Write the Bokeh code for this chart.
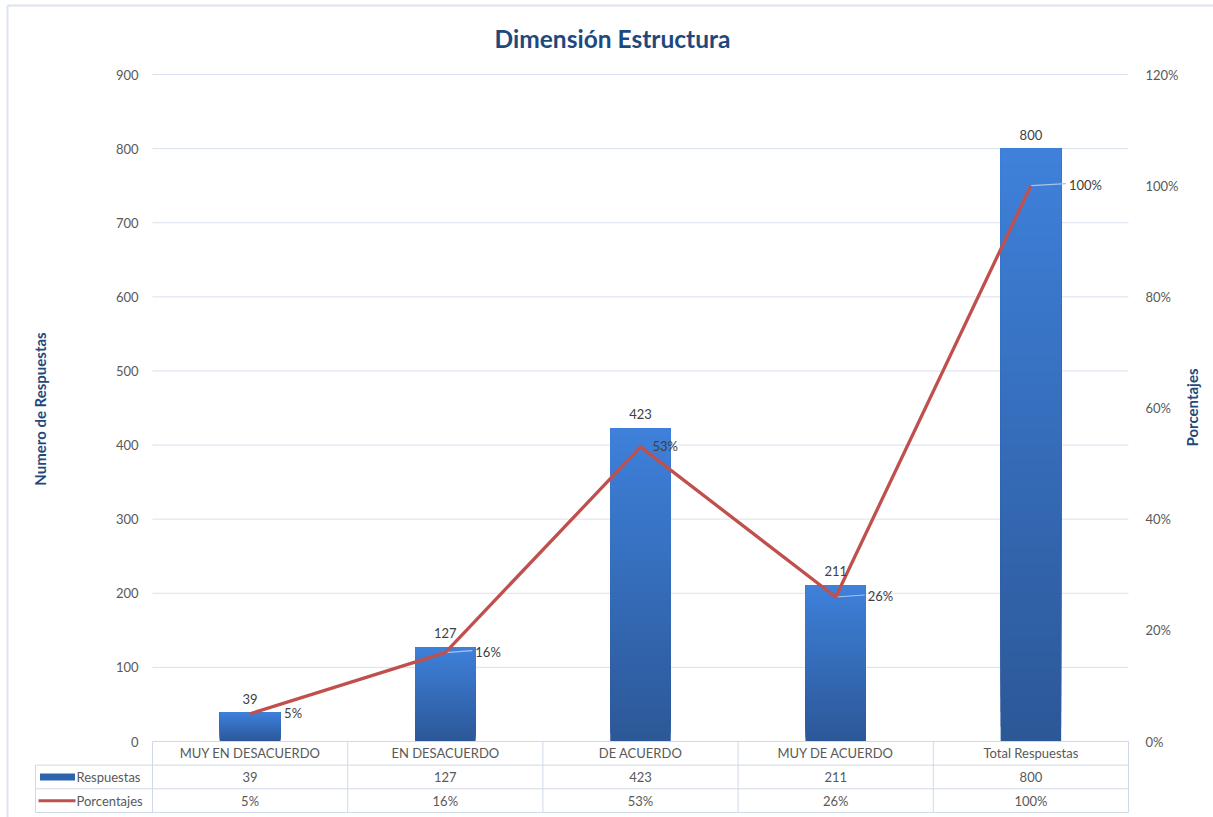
import math
from bokeh.plotting import figure
from bokeh.models import Range1d, LinearAxis, FixedTicker, NumeralTickFormatter, Label
from bokeh.core.properties import value
from bokeh.embed import file_html
from bokeh.resources import INLINE

# ---------------- data ----------------
categories = ["MUY EN DESACUERDO", "EN DESACUERDO", "DE ACUERDO", "MUY DE ACUERDO", "Total Respuestas"]
respuestas = [39, 127, 423, 211, 800]
porcentajes = [0.05, 0.16, 0.53, 0.26, 1.00]
pct_labels = ["5%", "16%", "53%", "26%", "100%"]
left_ticks = [0, 100, 200, 300, 400, 500, 600, 700, 800, 900]
right_ticks = [0, 0.2, 0.4, 0.6, 0.8, 1.0, 1.2]
series_names = ["Respuestas", "Porcentajes"]
title_text = "Dimensión Estructura"
y_label_left = "Numero de Respuestas"
y_label_right = "Porcentajes"

# ---------------- styles ----------------
pct_label_dx = [34, 30, 12, 32, 38]
leader_on = [False, True, False, True, True]
FONT = "Lato"
TEXT_GRAY = "#595959"
DARK_BLUE = "#1F497D"
BAR_TOP = (62, 128, 218)
BAR_BOT = (44, 88, 152)
LINE_RED = "#C0504D"
GRID = "#D9E1F0"
TABLE_LINE = "#D0D9E8"
BORDER = "#DCE4F0"
LEADER = "#A9C4EB"

# ---------------- layout (pixels) ----------------
W, H = 1213, 817
PLOT_L, PLOT_R, PLOT_T = 152, 1128, 74
ZERO_PX = 741
TABLE_BOTTOM_PX = 812
LEG_L = 35
n = len(categories)
unit = (PLOT_R - PLOT_L) / n


def px2x(px):
    return -0.5 + (px - PLOT_L) / unit


ymax = left_ticks[-1]
pmax = right_ticks[-1]
px_per_val = (ZERO_PX - PLOT_T) / ymax
px_per_pct = (ZERO_PX - PLOT_T) / pmax
ROW_PX = (TABLE_BOTTOM_PX - ZERO_PX) / 3


def py2y(py):
    return (ZERO_PX - py) / px_per_val


p = figure(width=W, height=H,
           x_range=Range1d(px2x(0), px2x(W)),
           y_range=Range1d(py2y(H), py2y(0)),
           x_axis_location=None, y_axis_location=None,
           toolbar_location=None, output_backend="svg",
           min_border_left=0, min_border_right=0,
           min_border_top=0, min_border_bottom=0,
           outline_line_color=None, background_fill_color="white",
           border_fill_color="white")
p.xgrid.visible = False
p.ygrid.visible = False
p.extra_y_ranges = {
    "pct": Range1d(-(H - ZERO_PX) / px_per_pct, ZERO_PX / px_per_pct),
    "tbl": Range1d(-(H - ZERO_PX) / ROW_PX, ZERO_PX / ROW_PX),
}

idx = list(range(n))

# chart border (top and left edges)
p.segment(x0=[px2x(7), px2x(7)], x1=[px2x(W), px2x(7)], y0=[py2y(5), py2y(5)],
          y1=[py2y(5), py2y(H)], line_color=BORDER, line_width=2)

# gridlines
gt = left_ticks[1:]
p.segment(x0=[-0.5] * len(gt), x1=[n - 0.5] * len(gt), y0=gt, y1=gt,
          line_color=GRID, line_width=1)

# bars with vertical gradient
N = 40
bx, bb, bt, bc = [], [], [], []
for k in range(N):
    f = k / (N - 1)
    col = "#%02x%02x%02x" % tuple(int(round(BAR_BOT[j] + (BAR_TOP[j] - BAR_BOT[j]) * f)) for j in range(3))
    for i, v in zip(idx, respuestas):
        bx.append(i)
        bb.append(v * k / N)
        bt.append(v)
        bc.append(col)
p.vbar(x=bx, bottom=bb, top=bt, width=0.31, fill_color=bc, line_color=None)

# leader lines for percentage labels
lx0, lx1, ly = [], [], []
for i, pv, dx, on in zip(idx, porcentajes, pct_label_dx, leader_on):
    if on:
        lx0.append(i)
        lx1.append(i + (dx - 3) / unit)
        ly.append(pv)
p.segment(x0=lx0, x1=lx1, y0=ly, y1=[v + 2 / px_per_pct for v in ly], y_range_name="pct",
          line_color=LEADER, line_width=1.2)

# line
p.line(x=idx, y=porcentajes, y_range_name="pct", line_color=LINE_RED, line_width=3.3,
       line_join="round")

# data labels
p.text(x=idx, y=respuestas, text=[str(v) for v in respuestas], text_align="center",
       text_baseline="bottom", y_offset=-9, text_font=value(FONT), text_font_size="13px",
       text_color="#404040")
p.text(x=idx, y=porcentajes, y_range_name="pct", text=pct_labels, x_offset=pct_label_dx,
       y_offset=-1, text_align="left", text_baseline="middle", text_font=value(FONT),
       text_font_size="13px", text_color="#404040")

# ---------------- data table ----------------
xl = px2x(LEG_L)
hx0 = [-0.5, xl, xl, xl]
hx1 = [n - 0.5] * 4
hy = [0, -1, -2, -3]
p.segment(x0=hx0, x1=hx1, y0=hy, y1=hy, y_range_name="tbl", line_color=TABLE_LINE, line_width=1)
vx = [i - 0.5 for i in range(n + 1)] + [xl]
vy0 = [0] * (n + 1) + [-1]
p.segment(x0=vx, x1=vx, y0=vy0, y1=[-3] * (n + 2), y_range_name="tbl",
          line_color=TABLE_LINE, line_width=1)
p.text(x=idx, y=[-0.5] * n, y_range_name="tbl", text=categories, text_align="center",
       text_baseline="middle", text_font=value(FONT), text_font_size="13px", text_color=TEXT_GRAY)
p.text(x=idx, y=[-1.5] * n, y_range_name="tbl", text=[str(v) for v in respuestas],
       text_align="center", text_baseline="middle", text_font=value(FONT),
       text_font_size="13px", text_color=TEXT_GRAY)
p.text(x=idx, y=[-2.5] * n, y_range_name="tbl", text=pct_labels,
       text_align="center", text_baseline="middle", text_font=value(FONT),
       text_font_size="13px", text_color=TEXT_GRAY)
p.text(x=[px2x(76)] * 2, y=[-1.5, -2.5], y_range_name="tbl", text=series_names,
       text_align="left", text_baseline="middle", text_font=value(FONT),
       text_font_size="13px", text_color=TEXT_GRAY)
p.rect(x=[px2x(57)], y=[-1.5], width=35, height=7, width_units="screen",
       height_units="screen", y_range_name="tbl", fill_color="#2E64AE", line_color=None)
p.segment(x0=[px2x(38)], x1=[px2x(75)], y0=[-2.5], y1=[-2.5], y_range_name="tbl",
          line_color=LINE_RED, line_width=3)

# ---------------- axes ----------------
ax_l = LinearAxis(fixed_location=-0.5, ticker=FixedTicker(ticks=left_ticks),
                  axis_label=y_label_left)
ax_r = LinearAxis(fixed_location=n - 0.5, y_range_name="pct",
                  ticker=FixedTicker(ticks=right_ticks),
                  formatter=NumeralTickFormatter(format="0%"))
for ax, so, lso in ((ax_l, 14, 64), (ax_r, 17, 8)):
    ax.axis_line_color = None
    ax.major_tick_line_color = None
    ax.minor_tick_line_color = None
    ax.major_tick_out = 0
    ax.major_tick_in = 0
    ax.minor_tick_out = 0
    ax.major_label_standoff = so
    ax.axis_label_standoff = lso
    ax.major_label_text_font = FONT
    ax.major_label_text_font_size = "13px"
    ax.major_label_text_color = TEXT_GRAY
    ax.axis_label_text_font = FONT
    ax.axis_label_text_font_style = "bold"
    ax.axis_label_text_font_size = "15px"
    ax.axis_label_text_color = DARK_BLUE
p.add_layout(ax_l, "left")
p.add_layout(ax_r, "right")

# right axis title, reading bottom-to-top like the left one
p.add_layout(Label(x=px2x(1191), y=py2y(407), text=y_label_right, angle=math.pi / 2,
                   text_align="center", text_baseline="middle", text_font=FONT,
                   text_font_size="15px", text_font_style="bold", text_color=DARK_BLUE))

# title
p.add_layout(Label(x=px2x(612), y=py2y(38), text=title_text,
                   text_align="center", text_baseline="middle", text_font=FONT,
                   text_font_size="24.5px", text_font_style="bold", text_color=DARK_BLUE))

open("out.html", "w").write(file_html(p, INLINE))
